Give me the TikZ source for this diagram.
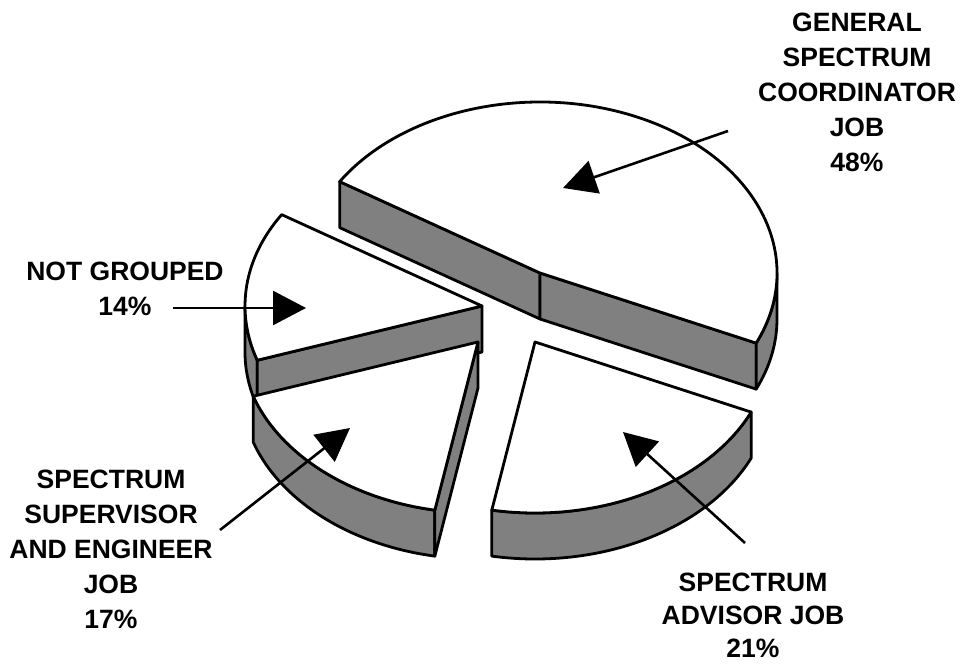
\documentclass[tikz,border=0pt]{standalone}
\usepackage{fontspec}
\setmainfont{Liberation Sans}
\usetikzlibrary{arrows.meta}
\begin{document}
\begin{tikzpicture}[x=1pt,y=1pt,
    slicetop/.style={draw,fill=white,line width=2.8pt,line join=round},
    slicewall/.style={draw,fill=black!50,line width=2.8pt,line join=round},
    pointer/.style={line width=2.6pt,-{Triangle[length=33pt,width=34pt]}},
    lbl/.style={align=center,inner sep=0pt,font=\bfseries\fontsize{26.5}{35}\selectfont}]
  \useasboundingbox (0,0) rectangle (964,665);
  \begin{scope}[shift={(540,392)}]
    \draw[slicewall] (0,0) -- (147.7:237pt and 171pt) -- ++(0,-46) -- (0,-46) -- cycle;
    \draw[slicewall] (0,0) -- (-24.2:237pt and 171pt) -- ++(0,-46) -- (0,-46) -- cycle;
    \draw[slicewall] (-24.2:237pt and 171pt) arc[start angle=-24.2,end angle=0,x radius=237pt,y radius=171pt]
      -- ++(0,-46) arc[start angle=0,end angle=-24.2,x radius=237pt,y radius=171pt] -- cycle;
    \draw[slicetop] (0,0) -- (-24.2:237pt and 171pt) arc[start angle=-24.2,end angle=147.7,x radius=237pt,y radius=171pt] -- cycle;
  \end{scope}
  \begin{scope}[shift={(482,359)}]
    \draw[slicewall] (180:237pt and 171pt) arc[start angle=180,end angle=198.5,x radius=237pt,y radius=171pt]
      -- ++(0,-46) arc[start angle=198.5,end angle=180,x radius=237pt,y radius=171pt] -- cycle;
    \draw[slicewall] (0,0) -- (198.5:237pt and 171pt) -- ++(0,-46) -- (0,-46) -- cycle;
    \draw[slicetop] (0,0) -- (147.7:237pt and 171pt) arc[start angle=147.7,end angle=198.5,x radius=237pt,y radius=171pt] -- cycle;
  \end{scope}
  \begin{scope}[shift={(478,323)}]
    \draw[slicewall] (198.5:237pt and 171pt) arc[start angle=198.5,end angle=259.5,x radius=237pt,y radius=171pt]
      -- ++(0,-46) arc[start angle=259.5,end angle=198.5,x radius=237pt,y radius=171pt] -- cycle;
    \draw[slicewall] (0,0) -- (259.5:237pt and 171pt) -- ++(0,-46) -- (0,-46) -- cycle;
    \draw[slicetop] (0,0) -- (198.5:237pt and 171pt) arc[start angle=198.5,end angle=259.5,x radius=237pt,y radius=171pt] -- cycle;
  \end{scope}
  \begin{scope}[shift={(535,323)}]
    \draw[slicewall] (259.5:237pt and 171pt) arc[start angle=259.5,end angle=335.8,x radius=237pt,y radius=171pt]
      -- ++(0,-46) arc[start angle=335.8,end angle=259.5,x radius=237pt,y radius=171pt] -- cycle;
    \draw[slicetop] (0,0) -- (259.5:237pt and 171pt) arc[start angle=259.5,end angle=335.8,x radius=237pt,y radius=171pt] -- cycle;
  \end{scope}
  \node[lbl] (genlbl) at (857,572.5) {GENERAL\\SPECTRUM\\COORDINATOR\\JOB\\48\%};
  \node[lbl] (nglbl) at (125,376) {NOT GROUPED\\14\%};
  \node[lbl] (suplbl) at (111,115.5) {SPECTRUM\\SUPERVISOR\\AND ENGINEER\\JOB\\17\%};
  \node[lbl,font=\bfseries\fontsize{26.5}{33}\selectfont] (advlbl) at (753,50) {SPECTRUM\\ADVISOR JOB\\21\%};
  \coordinate (genfrom) at (728,534);
  \coordinate (gento) at (563,477);
  \coordinate (ngfrom) at (173,357);
  \coordinate (ngto) at (306,357);
  \coordinate (supfrom) at (220,135);
  \coordinate (supto) at (350,237);
  \coordinate (advfrom) at (745,122);
  \coordinate (advto) at (623,233);
  \draw[pointer] (genfrom) -- (gento);
  \draw[pointer] (ngfrom) -- (ngto);
  \draw[pointer] (supfrom) -- (supto);
  \draw[pointer] (advfrom) -- (advto);
\end{tikzpicture}
\end{document}
